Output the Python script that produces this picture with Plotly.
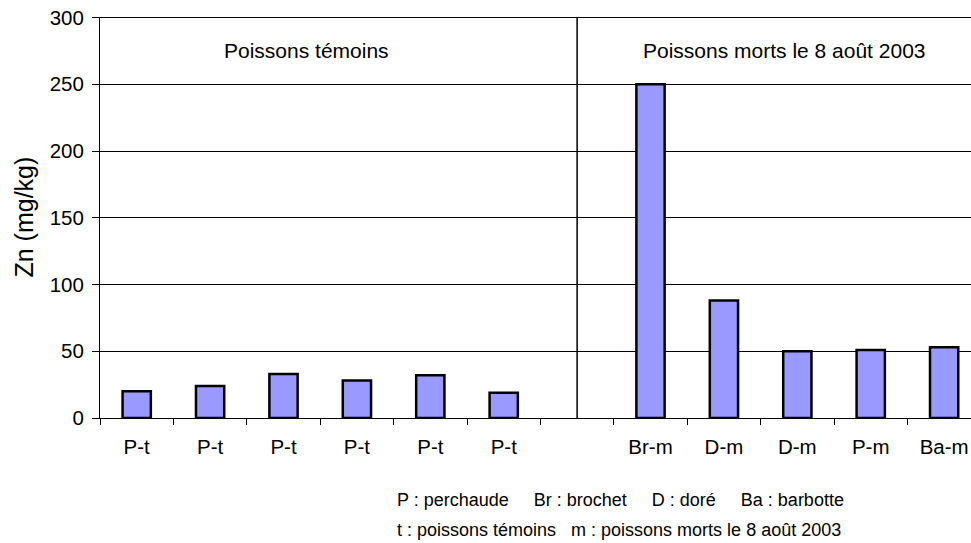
import plotly.graph_objects as go

# Zn concentrations in fish (mg/kg); slot 7 is the empty separator
labels = ["P-t", "P-t", "P-t", "P-t", "P-t", "P-t", "", "Br-m", "D-m", "D-m", "P-m", "Ba-m"]
zn = [20, 24, 33, 28, 32, 19, None, 250, 88, 50, 51, 53]
group_titles = ["Poissons témoins", "Poissons morts le 8 août 2003"]
y_ticks = [0, 50, 100, 150, 200, 250, 300]
notes = [
    "P : perchaude" + "\u00a0" * 5 + "Br : brochet" + "\u00a0" * 5 + "D : doré" + "\u00a0" * 5 + "Ba : barbotte",
    "t : poissons témoins" + "\u00a0" * 3 + "m : poissons morts le 8 août 2003",
]

FONT = "Arial, 'Liberation Sans', sans-serif"
positions = list(range(1, len(labels) + 1))
split = labels.index("") + 1

fig = go.Figure(
    go.Bar(
        x=positions,
        y=zn,
        width=0.385,
        marker=dict(color="#9999FF", line=dict(color="black", width=2.5)),
        hoverinfo="y",
    )
)

fig.update_layout(
    width=971,
    height=543,
    margin=dict(l=100, r=0, t=16.5, b=124.5),
    plot_bgcolor="white",
    paper_bgcolor="white",
    font=dict(family=FONT, color="black"),
    showlegend=False,
)

fig.update_xaxes(
    range=[0.5, 12.366],
    tickmode="array",
    tickvals=positions,
    ticktext=labels,
    ticks="",
    ticklabelstandoff=10,
    ticklabeloverflow="allow",
    tickfont=dict(size=20.5),
    minor=dict(
        tickmode="array",
        tickvals=[p - 0.5 for p in positions],
        ticks="outside",
        ticklen=6,
        tickcolor="black",
        showgrid=False,
    ),
    showline=True,
    linecolor="black",
    linewidth=1,
    showgrid=False,
    zeroline=False,
)

fig.update_yaxes(
    range=[0, 300.4],
    tickmode="array",
    tickvals=y_ticks,
    ticks="outside",
    ticklen=7,
    tickcolor="black",
    ticklabelstandoff=4,
    ticklabeloverflow="allow",
    tickfont=dict(size=20.5),
    showline=True,
    linecolor="black",
    linewidth=1,
    showgrid=True,
    gridcolor="black",
    gridwidth=1,
    zeroline=False,
)

# top gridline at the axis maximum
fig.add_shape(
    type="line", xref="paper", yref="y",
    x0=0, x1=1, y0=max(y_ticks), y1=max(y_ticks),
    line=dict(color="black", width=1), layer="below",
)

# separator between the two groups
fig.add_shape(
    type="line", xref="x", yref="y",
    x0=split, x1=split, y0=0, y1=max(y_ticks),
    line=dict(color="black", width=1.5),
)

fig.add_annotation(
    text=group_titles[0], xref="x", yref="y", x=3.31, y=275,
    showarrow=False, font=dict(size=21), xanchor="center", yanchor="middle",
)
fig.add_annotation(
    text=group_titles[1], xref="x", yref="y", x=9.82, y=275,
    showarrow=False, font=dict(size=21), xanchor="center", yanchor="middle",
)

fig.add_annotation(
    text="Zn (mg/kg)", xref="paper", yref="paper", x=0, y=0.5, xshift=-77,
    textangle=-90, showarrow=False, font=dict(size=25),
    xanchor="center", yanchor="middle",
)

for i, line in enumerate(notes):
    fig.add_annotation(
        text=line, xref="paper", yref="paper", x=(395 - 100) / 871, y=0,
        yshift=-82 - 30 * i, showarrow=False, font=dict(size=18),
        xanchor="left", yanchor="middle",
    )

# drop the default page margin so the figure fills the window exactly
fig.write_html(
    "out.html",
    config={"displayModeBar": False},
    post_script="document.body.style.margin='0';document.body.style.overflow='hidden';",
)
